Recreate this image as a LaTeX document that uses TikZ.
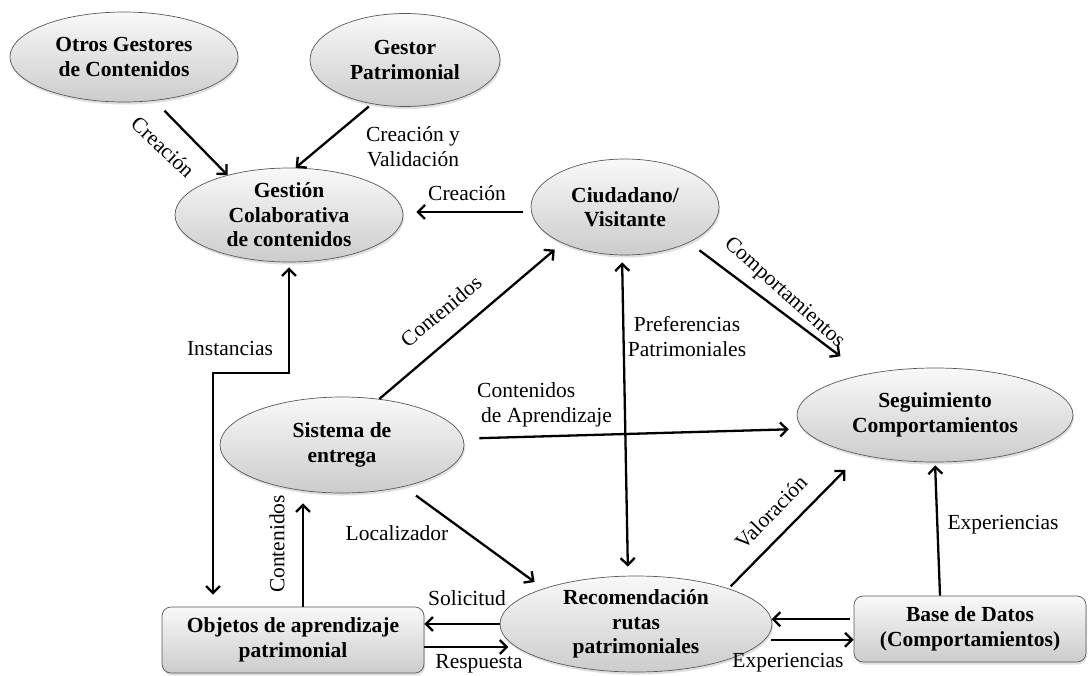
\documentclass[tikz,border=0pt]{standalone}
\usepackage{fontspec}
\setmainfont{Liberation Serif}
\usetikzlibrary{arrows.meta,shapes.geometric,calc,shadows}
\begin{document}
\begin{tikzpicture}[x=1pt,y=-1pt,
  ell/.style={ellipse, draw=black!65, line width=0.7pt, top color=gray!5, bottom color=gray!40,
    inner sep=0pt, align=center, font=\fontsize{21.5}{24.5}\selectfont\bfseries,
    drop shadow={opacity=0.25,shadow xshift=1pt,shadow yshift=-2.5pt}},
  box/.style={rectangle, rounded corners=9pt, draw=black!65, line width=0.7pt, top color=gray!5, bottom color=gray!40,
    inner sep=0pt, align=center, font=\fontsize{21.5}{25.5}\selectfont\bfseries,
    drop shadow={opacity=0.25,shadow xshift=1pt,shadow yshift=-2.5pt}},
  arr/.style={-{Straight Barb[length=7pt,width=14pt]}, line width=2.3pt},
  darr/.style={{Straight Barb[length=7pt,width=14pt]}-{Straight Barb[length=7pt,width=14pt]}, line width=2.3pt},
  lab/.style={font=\fontsize{21.5}{25}\selectfont, inner sep=0pt, align=center}
]
\fill[white] (0,0) rectangle (1089,675);
\useasboundingbox (0,0) rectangle (1089,675);

% nodes
\node[ell, minimum width=228pt, minimum height=90pt] (otros) at (124,57) {Otros Gestores\\de Contenidos};
\node[ell, minimum width=190pt, minimum height=93pt] (gestor) at (405,60) {Gestor\\Patrimonial};
\node[ell, minimum width=228pt, minimum height=94pt, inner ysep=-10pt] (gestion) at (289,215) {Gestión\\Colaborativa\\de contenidos};
\node[ell, minimum width=188pt, minimum height=96pt] (ciud) at (625,207) {Ciudadano/\\Visitante};
\node[ell, minimum width=276pt, minimum height=94pt] (seg) at (935,415) {Seguimiento\\Comportamientos};
\node[ell, minimum width=244pt, minimum height=96pt] (sist) at (342,445) {Sistema de\\entrega};
\node[ell, minimum width=272pt, minimum height=96pt, inner ysep=-10pt] (recom) at (636,624) {Recomendación\\rutas\\patrimoniales};
\node[box, minimum width=262pt, minimum height=66pt] (obj) at (293,640) {Objetos de aprendizaje\\patrimonial};
\node[box, minimum width=232pt, minimum height=66pt] (base) at (970,629) {Base de Datos\\(Comportamientos)};

% helper coordinates
\coordinate (ibend) at (213,373);
\coordinate (o1) at ([xshift=10pt]obj.north);
\coordinate (r1) at ([yshift=-7pt]obj.east);

% connectors
\draw[arr, shorten <=14pt] (otros.-55) -- (gestion.147);
\draw[arr, shorten <=4pt] (gestor.233) -- (gestion.82);
\draw[arr, shorten <=8pt, shorten >=13pt] (ciud.183) -- (ciud.183 -| gestion.east);
\draw[arr, shorten >=10pt] (sist.51) -- (ciud.210);
\draw[arr, shorten <=13pt, shorten >=30pt] (ciud.-29) -- (seg.150);
\draw[darr, shorten <=7pt, shorten >=9pt] ([xshift=-3pt]ciud.south) -- ([xshift=-8pt]recom.north);
\draw[arr, shorten <=16pt, shorten >=14pt] (sist.3.5) -- (seg.186.7);
\draw[arr, shorten <=15pt, shorten >=11pt] (sist.-34) -- (recom.159);
\draw[arr, shorten >=10pt] (o1) -- (o1 |- sist.south);
\draw[darr, shorten <=5pt, shorten >=12pt] (gestion.south) |- (ibend) -- (ibend |- obj.north);
\draw[arr] (recom.west) -- (recom.west -| obj.east);
\draw[arr, shorten >=8pt] (r1) -- (r1 -| recom.191);
\draw[arr, shorten <=3pt, shorten >=21pt] (recom.21) -- (seg.208);
\draw[arr, shorten <=4pt] (base.west |- recom.2.5) -- (recom.2.5);
\draw[arr, shorten <=6pt] (recom.-7.6) -- (recom.-7.6 -| base.west);
\draw[arr, shorten >=3pt] ([xshift=-30pt]base.north) -- (seg.south);

% labels
\node[lab, rotate=-43] (l1) at (163,147) {Creación};
\node[lab] (l2) at (413,147) {Creación y\\Validación};
\node[lab] (l3) at (467,193) {Creación};
\node[lab, rotate=40] (l4) at (441,311) {Contenidos};
\node[lab, rotate=-42] (l5) at (784,293) {Comportamientos};
\node[lab] (l6) at (687,337) {Preferencias\\Patrimoniales};
\node[lab, align=left, anchor=west] (l7) at (477,405) {Contenidos\\\hspace*{4pt}de Aprendizaje};
\node[lab] (l8) at (230,348) {Instancias};
\node[lab] (l9) at (397,533) {Localizador};
\node[lab, rotate=90] (l10) at (277,544) {Contenidos};
\node[lab] (l11) at (467,598) {Solicitud};
\node[lab] (l12) at (479,664) {Respuesta};
\node[lab, rotate=46] (l13) at (771,512) {Valoración};
\node[lab] (l14) at (788,663) {Experiencias};
\node[lab] (l15) at (1003,525) {Experiencias};
\end{tikzpicture}
\end{document}
